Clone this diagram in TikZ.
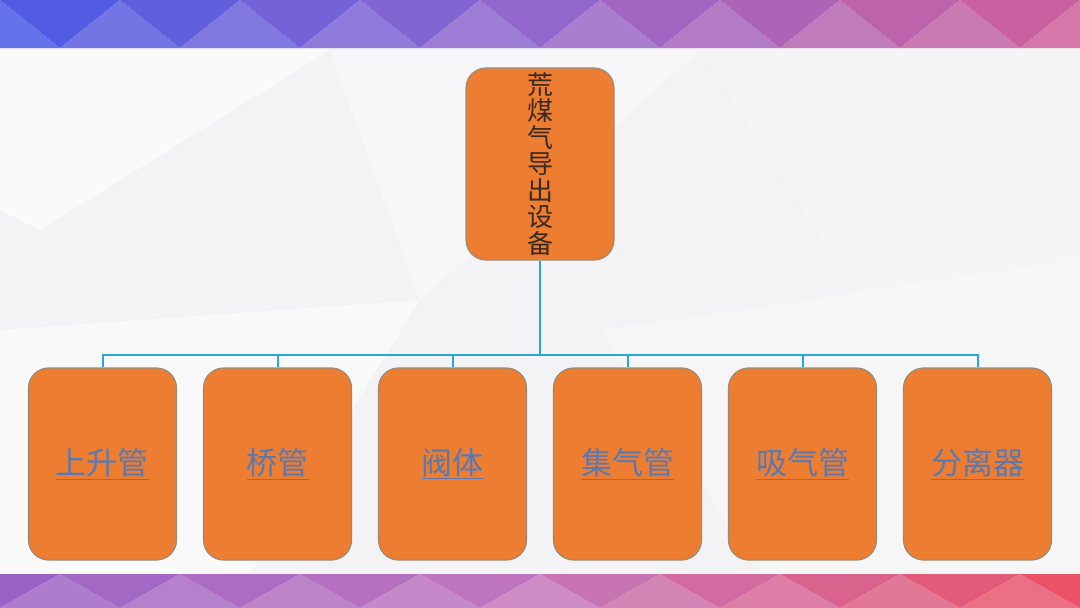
\documentclass[tikz,border=0pt]{standalone}
\usepackage{fontspec}
\newfontfamily\cjk{Noto Sans CJK SC}
\usetikzlibrary{calc}

\definecolor{boxorange}{HTML}{ED7D31}
\definecolor{boxedge}{HTML}{9A8C78}
\definecolor{linkcyan}{HTML}{2BA6D8}
\definecolor{labelblue}{HTML}{5A79B2}
\definecolor{rootink}{HTML}{3A2A20}
\definecolor{bgpaper}{HTML}{F3F3F5}
\definecolor{topblue}{HTML}{4A5AE6}
\definecolor{toppurple}{HTML}{9468CC}
\definecolor{toppink}{HTML}{D0609A}
\definecolor{botpurple}{HTML}{9A62C6}
\definecolor{botmauve}{HTML}{C478BC}
\definecolor{botred}{HTML}{EC5266}

\tikzset{
  orangebox/.style={draw=boxedge, line width=1.2pt, fill=boxorange, rounded corners=20pt,
    minimum width=148pt, minimum height=192pt, inner sep=0pt},
  link/.style={draw=linkcyan, line width=2pt},
}

\begin{document}
\begin{tikzpicture}[x=1pt, y=-1pt]
  \useasboundingbox (0,0) rectangle (1080,608);
  \fill[bgpaper] (0,0) rectangle (1080,608);
  % faint background facets
  \fill[white, opacity=0.6] (0,50) -- (330,50) -- (40,230) -- (0,210) -- cycle;
  \fill[white, opacity=0.4] (330,50) -- (700,50) -- (420,300) -- cycle;
  \fill[gray!6, opacity=0.5] (700,50) -- (1080,50) -- (1080,260) -- (880,330) -- cycle;
  \fill[white, opacity=0.5] (0,330) -- (420,300) -- (250,574) -- (0,574) -- cycle;
  \fill[gray!5, opacity=0.5] (600,330) -- (1080,260) -- (1080,574) -- (760,574) -- cycle;

  % top banner
  \foreach \i in {-1,...,18}{
    \pgfmathtruncatemacro\pa{max(0,min(100,\i*11.1))}
    \pgfmathtruncatemacro\pb{max(0,min(100,(\i-9)*11.1))}
    \colorlet{tmpmix}{toppurple!\pa!topblue}
    \ifodd\i
      \fill[toppink!\pb!tmpmix] (\i*60-60,0) -- (\i*60,48) -- (\i*60+60,0) -- cycle;
    \else
      \fill[toppink!\pb!tmpmix!85!white] (\i*60-60,48) -- (\i*60,0) -- (\i*60+60,48) -- cycle;
    \fi
  }
  % bottom banner
  \foreach \i in {-1,...,18}{
    \pgfmathtruncatemacro\pa{max(0,min(100,\i*11.1))}
    \pgfmathtruncatemacro\pb{max(0,min(100,(\i-9)*11.1))}
    \colorlet{tmpmix}{botmauve!\pa!botpurple}
    \ifodd\i
      \fill[botred!\pb!tmpmix!85!white] (\i*60-60,608) -- (\i*60,574) -- (\i*60+60,608) -- cycle;
    \else
      \fill[botred!\pb!tmpmix] (\i*60-60,574) -- (\i*60,608) -- (\i*60+60,574) -- cycle;
    \fi
  }

  % root
  \node[orangebox, text=rootink, align=center, font=\cjk\fontsize{26}{26.5}\selectfont] (root) at (540,164)
    {荒\\煤\\气\\导\\出\\设\\备};

  % children
  \foreach \name/\txt [count=\k from 0] in {riser/上升管, bridge/桥管, valve/阀体, main/集气管, suction/吸气管, separator/分离器}{
    \node[orangebox, text=labelblue, font=\cjk\fontsize{31}{34}\selectfont] (\name) at (102.5+\k*175,464) {\underline{\txt}};
  }

  % connectors
  \coordinate (bus) at (540,355);
  \draw[link] (root.south) -- (bus);
  \foreach \name in {riser, bridge, valve, main, suction, separator}
    \draw[link] (bus) -| (\name.north);
\end{tikzpicture}
\end{document}
